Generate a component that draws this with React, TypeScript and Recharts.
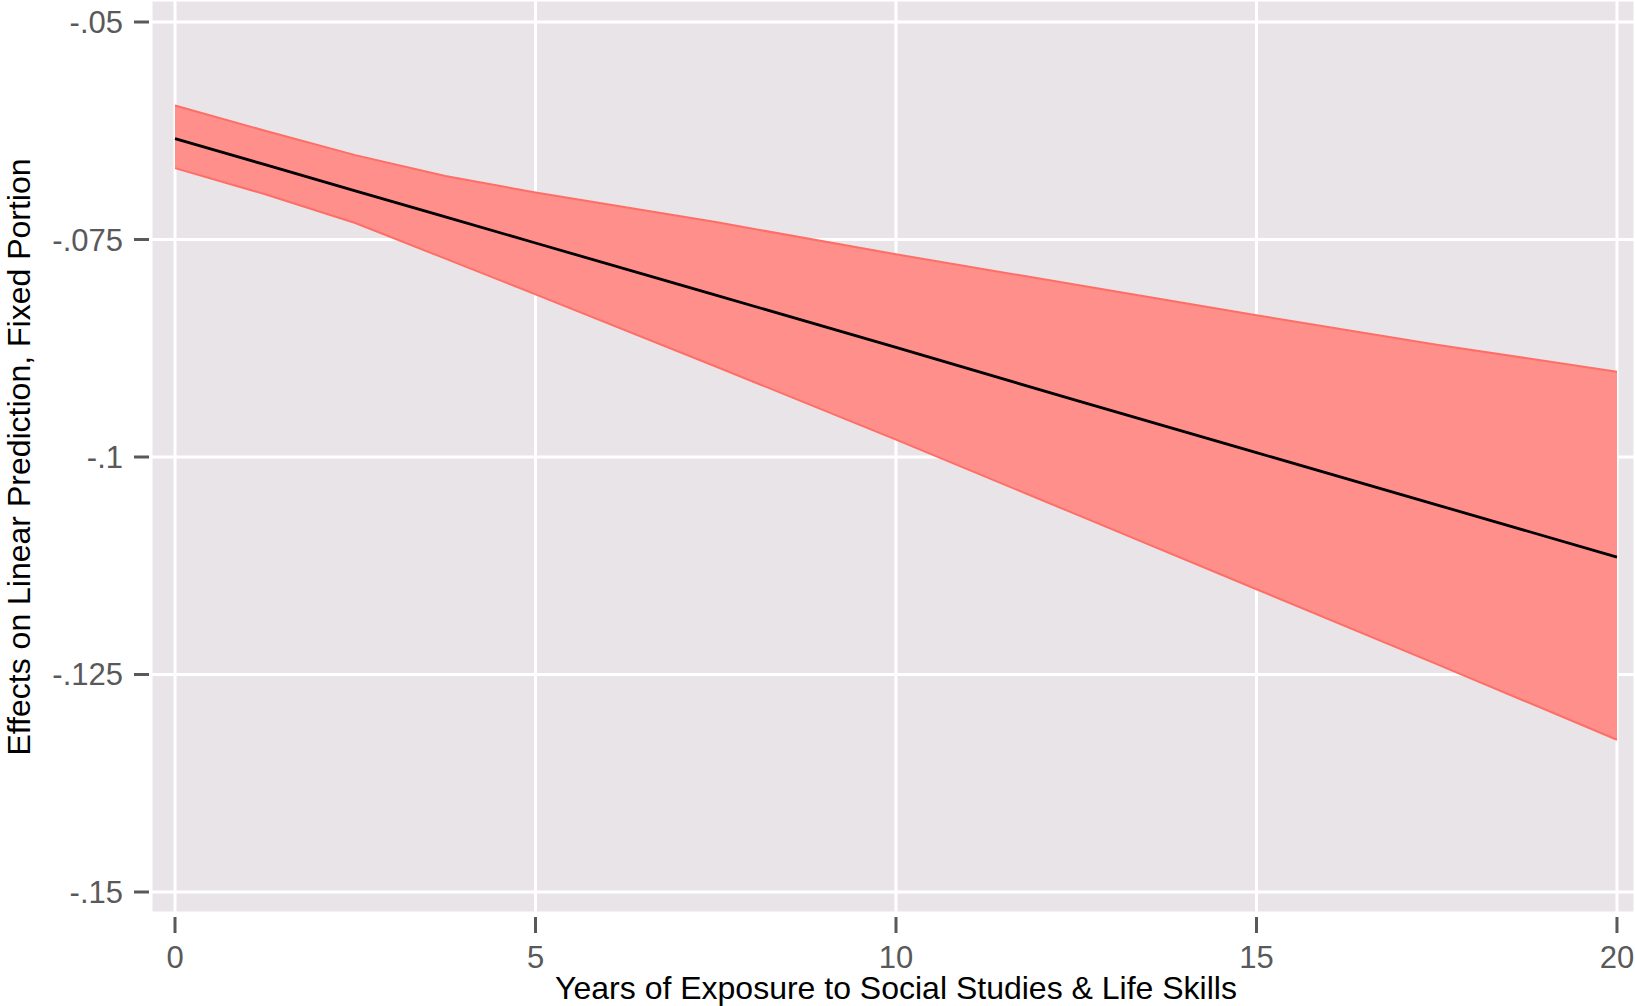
import {
  ComposedChart,
  Area,
  Line,
  XAxis,
  YAxis,
  CartesianGrid,
} from "recharts";

const years = [0, 1.25, 2.5, 3.75, 5, 7.5, 10, 12.5, 15, 17.5, 20];
// fitted effect (black line)
const fitted = [-0.0634, -0.0664, -0.0694, -0.0724, -0.0754, -0.0814, -0.0874, -0.0935, -0.0995, -0.1055, -0.1115];
// confidence band
const upperCI = [-0.0596, -0.0625, -0.0653, -0.0677, -0.0696, -0.073, -0.0767, -0.0802, -0.0837, -0.0871, -0.0902];
const lowerCI = [-0.0668, -0.0698, -0.0731, -0.0772, -0.0813, -0.0896, -0.098, -0.1066, -0.1152, -0.1238, -0.1325];

const xTicks = [0, 5, 10, 15, 20];
const yTicks = [-0.05, -0.075, -0.1, -0.125, -0.15];
const yTickLabels = ["-.05", "-.075", "-.1", "-.125", "-.15"];

const chartData = years.map((year, i) => ({
  year,
  band: [lowerCI[i], upperCI[i]],
  fit: fitted[i],
}));

const FONT = '"Liberation Sans", Arial, sans-serif';
const TICK_COLOR = "#595959";

function XTick(props: any) {
  const { x, y, payload } = props;
  return (
    <g>
      <line x1={x} x2={x} y1={y + 4} y2={y + 20} stroke={TICK_COLOR} strokeWidth={3} />
      <text x={x} y={y + 55} textAnchor="middle" fill={TICK_COLOR} fontSize={31} fontFamily={FONT}>
        {payload.value}
      </text>
    </g>
  );
}

function YTick(props: any) {
  const { x, y, payload } = props;
  const idx = yTicks.findIndex((t) => Math.abs(t - payload.value) < 1e-9);
  return (
    <g>
      <line x1={x - 17} x2={x - 2} y1={y} y2={y} stroke={TICK_COLOR} strokeWidth={3} />
      <text x={x - 28} y={y + 11} textAnchor="end" fill={TICK_COLOR} fontSize={31} fontFamily={FONT}>
        {idx >= 0 ? yTickLabels[idx] : payload.value}
      </text>
    </g>
  );
}

export default function App() {
  return (
    <div
      style={{
        position: "absolute",
        left: 0,
        top: 0,
        width: 1635,
        height: 1006,
        background: "#ffffff",
        fontFamily: FONT,
        overflow: "hidden",
      }}
    >
      <ComposedChart
        width={1635}
        height={1006}
        data={chartData}
        margin={{ top: 0, right: 0, bottom: 0, left: 0 }}
      >
        <CartesianGrid fill="#E8E4E8" fillOpacity={1} stroke="#FFFFFF" strokeWidth={3} />
        <XAxis
          dataKey="year"
          type="number"
          domain={[-0.333, 20.25]}
          ticks={xTicks}
          allowDataOverflow
          height={93}
          tickSize={0}
          tickMargin={0}
          tickLine={false}
          axisLine={false}
          interval={0}
          tick={<XTick />}
        />
        <YAxis
          type="number"
          domain={[-0.152414, -0.047471]}
          ticks={yTicks}
          allowDataOverflow
          width={151}
          tickSize={0}
          tickMargin={0}
          tickLine={false}
          axisLine={false}
          interval={0}
          tick={<YTick />}
        />
        <Area
          type="linear"
          dataKey="band"
          stroke="#FF6E66"
          strokeWidth={2}
          fill="#FF8F8A"
          fillOpacity={1}
          isAnimationActive={false}
        />
        <Line
          type="linear"
          dataKey="fit"
          stroke="#000000"
          strokeWidth={2.8}
          dot={false}
          activeDot={false}
          isAnimationActive={false}
        />
      </ComposedChart>
      <svg
        width={1635}
        height={1006}
        style={{ position: "absolute", left: 0, top: 0, pointerEvents: "none" }}
      >
        <text x={896} y={999} textAnchor="middle" fontSize={32} fontFamily={FONT} fill="#000">
          Years of Exposure to Social Studies &amp; Life Skills
        </text>
        <text
          transform="translate(30,457) rotate(-90)"
          textAnchor="middle"
          fontSize={32}
          fontFamily={FONT}
          fill="#000"
        >
          Effects on Linear Prediction, Fixed Portion
        </text>
      </svg>
    </div>
  );
}
